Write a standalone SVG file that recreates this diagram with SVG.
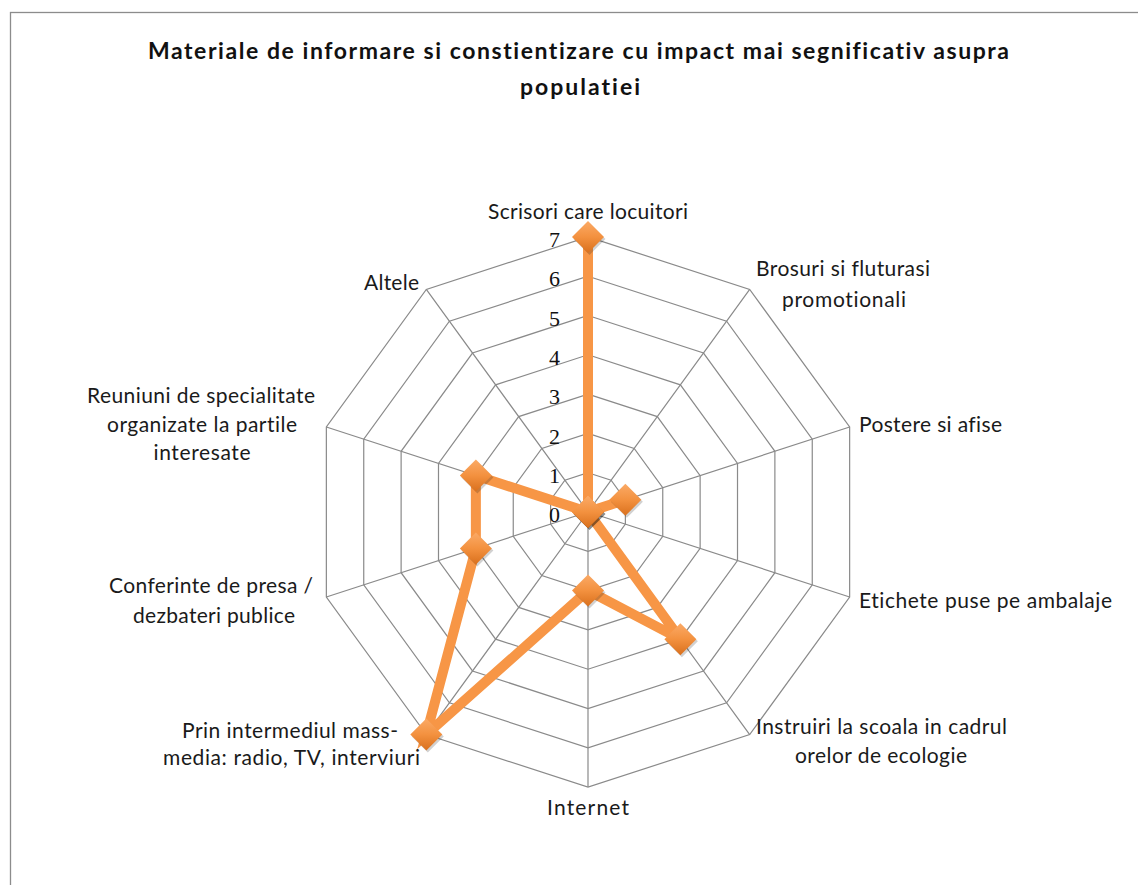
<svg xmlns="http://www.w3.org/2000/svg" xmlns:xlink="http://www.w3.org/1999/xlink" width="1138" height="885" viewBox="0 0 1138 885">
<style>
.grid{fill:none;stroke:#8a8a8a;stroke-width:1.2}
.lbl{font-family:Lato,"Open Sans","Liberation Sans",sans-serif;font-size:21px;fill:#1a1a1a;font-variant-ligatures:none}
.ttl{font-family:Lato,"Open Sans","Liberation Sans",sans-serif;font-size:23px;font-weight:bold;fill:#111;font-variant-ligatures:none}
.num{font-family:"Liberation Serif","DejaVu Serif",serif;font-size:22px;fill:#111;text-anchor:end}
.mid{text-anchor:middle}
.series{fill:none;stroke:#F79646;stroke-width:10;stroke-linejoin:miter;stroke-miterlimit:4}
</style>
<defs>
<linearGradient id="mg" x1="0" y1="0" x2="0" y2="1">
<stop offset="0" stop-color="#FBAA66"/>
<stop offset="0.5" stop-color="#F3913F"/>
<stop offset="1" stop-color="#D9701D"/>
</linearGradient>
<g id="mk">
<path d="M1.5,-14 L17.5,2 L1.5,18 L-14.5,2 Z" fill="#000" opacity="0.18"/>
<path d="M0,-16 L16,0 L0,16 L-16,0 Z" fill="url(#mg)"/>
</g>
</defs>
<rect x="0" y="0" width="1138" height="885" fill="#fff"/>
<rect x="10.5" y="12.5" width="1200" height="1000" fill="none" stroke="#8c8c8c" stroke-width="1.3"/>
<g id="title">
<text class="ttl" x="148" y="59" textLength="861">Materiale de informare si constientizare cu impact mai segnificativ asupra</text>
<text class="ttl" x="520" y="95" textLength="120">populatiei</text>
</g>
<g id="grid">
<polygon class="grid" points="588,472.7 611.1,480.21 625.38,499.86 625.38,524.14 611.1,543.79 588,551.3 564.9,543.79 550.62,524.14 550.62,499.86 564.9,480.21"/>
<polygon class="grid" points="588,433.4 634.2,448.41 662.75,487.71 662.75,536.29 634.2,575.59 588,590.6 541.8,575.59 513.25,536.29 513.25,487.71 541.8,448.41"/>
<polygon class="grid" points="588,394.1 657.3,416.62 700.13,475.57 700.13,548.43 657.3,607.38 588,629.9 518.7,607.38 475.87,548.43 475.87,475.57 518.7,416.62"/>
<polygon class="grid" points="588,354.8 680.4,384.82 737.51,463.42 737.51,560.58 680.4,639.18 588,669.2 495.6,639.18 438.49,560.58 438.49,463.42 495.6,384.82"/>
<polygon class="grid" points="588,315.5 703.5,353.03 774.88,451.28 774.88,572.72 703.5,670.97 588,708.5 472.5,670.97 401.12,572.72 401.12,451.28 472.5,353.03"/>
<polygon class="grid" points="588,276.2 726.6,321.23 812.26,439.13 812.26,584.87 726.6,702.77 588,747.8 449.4,702.77 363.74,584.87 363.74,439.13 449.4,321.23"/>
<polygon class="grid" points="588,236.9 749.7,289.44 849.64,426.99 849.64,597.01 749.7,734.56 588,787.1 426.3,734.56 326.36,597.01 326.36,426.99 426.3,289.44"/>
<path class="grid" d="M588,512 L588,236.9 M588,512 L749.7,289.44 M588,512 L849.64,426.99 M588,512 L849.64,597.01 M588,512 L749.7,734.56 M588,512 L588,787.1 M588,512 L426.3,734.56 M588,512 L326.36,597.01 M588,512 L326.36,426.99 M588,512 L426.3,289.44"/>
</g>
<g id="axis-values">
<text class="num" x="560" y="522">0</text>
<text class="num" x="560" y="483">1</text>
<text class="num" x="560" y="444">2</text>
<text class="num" x="560" y="404">3</text>
<text class="num" x="560" y="365">4</text>
<text class="num" x="560" y="326">5</text>
<text class="num" x="560" y="286">6</text>
<text class="num" x="560" y="247">7</text>
</g>
<g id="cat-scrisori"><text class="lbl mid" x="588" y="219" textLength="200">Scrisori care locuitori</text></g>
<g id="cat-brosuri">
<text class="lbl mid" x="843" y="276" textLength="174">Brosuri si fluturasi</text>
<text class="lbl mid" x="844" y="307" textLength="124">promotionali</text>
</g>
<g id="cat-postere"><text class="lbl" x="859" y="432" textLength="143">Postere si afise</text></g>
<g id="cat-etichete"><text class="lbl" x="859" y="608" textLength="253">Etichete puse pe ambalaje</text></g>
<g id="cat-instruiri">
<text class="lbl mid" x="881.5" y="734" textLength="251">Instruiri la scoala  in cadrul</text>
<text class="lbl mid" x="881" y="763" textLength="172">orelor de ecologie</text>
</g>
<g id="cat-internet"><text class="lbl mid" x="588" y="815" textLength="82">Internet</text></g>
<g id="cat-prin">
<text class="lbl mid" x="290" y="738" textLength="216">Prin intermediul mass-</text>
<text class="lbl mid" x="291.5" y="765" textLength="257">media: radio, TV, interviuri</text>
</g>
<g id="cat-conferinte">
<text class="lbl mid" x="211" y="593" textLength="204">Conferinte de presa /</text>
<text class="lbl mid" x="214" y="623" textLength="162">dezbateri publice</text>
</g>
<g id="cat-reuniuni">
<text class="lbl mid" x="201" y="403" textLength="228">Reuniuni de specialitate</text>
<text class="lbl mid" x="202" y="432" textLength="190">organizate la partile</text>
<text class="lbl mid" x="202" y="460" textLength="97">interesate</text>
</g>
<g id="cat-altele"><text class="lbl" x="364" y="290" textLength="55">Altele</text></g>
<g id="connectors">
<polygon class="series" points="588,236.9 588,512 625.38,499.86 588,512 680.4,639.18 588,590.6 426.3,734.56 475.87,548.43 475.87,475.57 588,512"/>
</g>
<g id="markers">
<use xlink:href="#mk" x="588" y="512"/>
<use xlink:href="#mk" x="588" y="512"/>
<use xlink:href="#mk" x="588" y="512"/>
<use xlink:href="#mk" x="588" y="236.9"/>
<use xlink:href="#mk" x="625.38" y="499.86"/>
<use xlink:href="#mk" x="680.4" y="639.18"/>
<use xlink:href="#mk" x="588" y="590.6"/>
<use xlink:href="#mk" x="426.3" y="734.56"/>
<use xlink:href="#mk" x="475.87" y="548.43"/>
<use xlink:href="#mk" x="475.87" y="475.57"/>
</g>
</svg>
